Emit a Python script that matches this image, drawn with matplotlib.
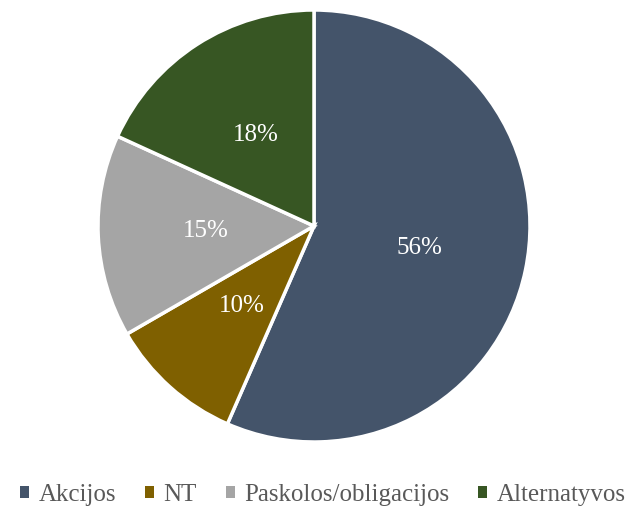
import matplotlib.pyplot as plt
from matplotlib.patches import Patch

kategorijos = ["Akcijos", "NT", "Paskolos/obligacijos", "Alternatyvos"]
reiksmes = [56, 10, 15, 18]
spalvos = ["#44546A", "#7F6000", "#A5A5A5", "#375623"]

plt.rcParams['font.family'] = ['Liberation Serif', 'DejaVu Serif']

fig = plt.figure(figsize=(6.28, 5.08), dpi=100)
ax = fig.add_axes([98 / 628, 66 / 508, 432 / 628, 432 / 508])

suma = sum(reiksmes)
ax.pie(reiksmes, colors=spalvos, startangle=90, counterclock=False,
       autopct=lambda p: f"{p * suma / 100:.0f}%", pctdistance=0.5,
       wedgeprops=dict(edgecolor="white", linewidth=2.5),
       textprops=dict(color="white", fontsize=18))
ax.set_xlim(-1, 1)
ax.set_ylim(-1, 1)
ax.set_aspect("equal")

rankenos = [Patch(facecolor=c, edgecolor="none") for c in spalvos]
fig.legend(rankenos, kategorijos, loc="center", bbox_to_anchor=(323 / 628, 13 / 508),
           ncol=4, frameon=False, fontsize=18, labelcolor="#595959",
           handlelength=0.35, handleheight=0.35, handletextpad=0.4,
           columnspacing=1.15, borderpad=0, borderaxespad=0)

fig.savefig("out.png", dpi=100)
